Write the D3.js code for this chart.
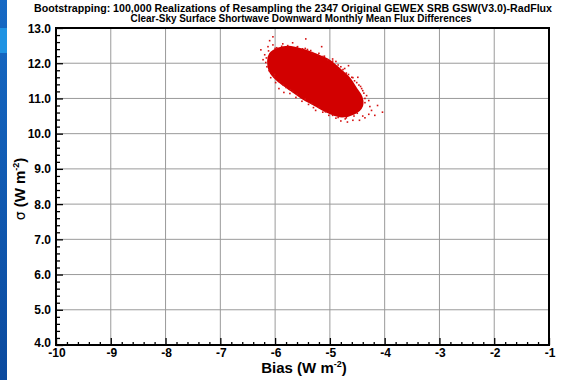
<!DOCTYPE html>
<html>
<head>
<meta charset="utf-8">
<script src="https://cdn.jsdelivr.net/npm/d3@7"></script>
<style>
  body { margin: 0; background: #fff; }
  svg { display: block; font-family: "Liberation Sans", Arial, sans-serif; }
</style>
</head>
<body>
<svg id="chart" width="561" height="380"></svg>
<script>
const titleLines = [
  "Bootstrapping: 100,000 Realizations of Resampling the 2347 Original GEWEX SRB GSW(V3.0)-RadFlux",
  "Clear-Sky Surface Shortwave Downward Monthly Mean Flux Differences"
];
const xTicks = [-10, -9, -8, -7, -6, -5, -4, -3, -2, -1];
const yTicks = [4, 5, 6, 7, 8, 9, 10, 11, 12, 13];

// dense core of the bootstrap cloud, [bias, sigma]
const cloudCore = [
  [-6.11, 12.05], [-6.08, 12.24], [-5.93, 12.39], [-5.75, 12.44], [-5.51, 12.36],
  [-5.26, 12.22], [-5.02, 12.05], [-4.84, 11.82], [-4.65, 11.54], [-4.53, 11.25],
  [-4.44, 11.03], [-4.43, 10.80], [-4.56, 10.60], [-4.82, 10.52], [-5.02, 10.63],
  [-5.26, 10.83], [-5.51, 11.05], [-5.75, 11.31], [-5.95, 11.54], [-6.08, 11.79]
];

// sparse realizations round the edge of the cloud, [bias, sigma]
const cloudFringe = [
  [-6.26, 12.38], [-6.19, 12.24], [-6.13, 12.47], [-6.10, 12.64], [-6.04, 12.52],
  [-5.97, 12.44], [-6.17, 12.02], [-6.11, 11.79], [-6.08, 11.59], [-5.99, 11.45],
  [-5.93, 11.28], [-5.84, 11.17], [-5.77, 12.50], [-5.68, 12.58], [-5.59, 12.47],
  [-5.50, 12.41], [-5.41, 12.39], [-5.32, 12.30], [-5.22, 12.24], [-5.13, 12.19],
  [-5.04, 12.10], [-4.89, 12.05], [-4.80, 11.90], [-4.73, 11.85], [-4.66, 11.68],
  [-4.58, 11.59], [-4.51, 11.45], [-4.44, 11.34], [-4.40, 11.22], [-4.33, 11.08],
  [-4.29, 10.94], [-4.27, 10.77], [-4.24, 10.66], [-4.18, 10.52], [-4.29, 10.55],
  [-4.40, 10.50], [-4.46, 10.38], [-4.58, 10.38], [-4.68, 10.33], [-4.80, 10.36],
  [-4.89, 10.44], [-5.02, 10.52], [-5.13, 10.61], [-5.26, 10.66], [-5.39, 10.83],
  [-5.51, 10.92], [-5.62, 11.03], [-5.73, 11.14], [-5.80, 11.31], [-6.04, 12.75],
  [-5.44, 12.69], [-5.15, 12.47], [-4.66, 11.93], [-4.13, 10.80], [-4.04, 10.61],
  [-6.15, 11.90], [-6.22, 12.10], [-5.86, 12.55], [-4.95, 12.12], [-4.36, 10.45],
  [-4.72, 10.42], [-5.30, 10.74], [-5.68, 11.20], [-6.01, 11.68], [-4.49, 11.60],
  [-5.60, 12.45], [-5.45, 12.42], [-5.35, 12.36], [-5.20, 12.28], [-5.10, 12.20],
  [-4.95, 12.06], [-4.85, 11.95], [-4.76, 11.82], [-4.70, 11.72], [-4.60, 11.60],
  [-4.55, 11.50], [-4.47, 11.38], [-4.42, 11.28], [-4.38, 11.15], [-4.36, 11.00],
  [-4.36, 10.88], [-6.02, 11.62], [-5.92, 11.48], [-5.85, 11.38], [-5.72, 11.25],
  [-5.60, 11.12], [-5.45, 10.98], [-5.33, 10.86], [-5.20, 10.75], [-5.08, 10.62],
  [-4.95, 10.52], [-4.85, 10.46], [-4.70, 10.45], [-4.56, 10.50], [-4.50, 10.58],
  [-6.16, 12.15], [-6.12, 12.35], [-6.00, 12.42], [-5.88, 12.48]
];

const svg = d3.select("#chart");

// slide background strip on the left
const grad = svg.append("defs").append("linearGradient")
  .attr("id", "strip").attr("x1", 0).attr("y1", 0).attr("x2", 0).attr("y2", 1);
grad.append("stop").attr("offset", "0%").attr("stop-color", "#1669c4");
grad.append("stop").attr("offset", "100%").attr("stop-color", "#0b4a9e");
svg.append("rect").attr("x", 0).attr("y", 0).attr("width", 7).attr("height", 380)
  .attr("fill", "url(#strip)");
svg.append("rect").attr("x", 0).attr("y", 28).attr("width", 7).attr("height", 25)
  .attr("fill", "#1f93e3");

const mLeft = 56, mRight = 549, mTop = 28, mBottom = 345;
const x = d3.scaleLinear([-10, -1], [mLeft, mRight]);
const y = d3.scaleLinear([4, 13], [mBottom, mTop]);

// grid
svg.append("g").selectAll("line").data(xTicks.slice(1, -1)).join("line")
  .attr("x1", d => x(d)).attr("x2", d => x(d)).attr("y1", mTop).attr("y2", mBottom)
  .attr("stroke", "#9a9a9a").attr("stroke-width", 1);
svg.append("g").selectAll("line").data(yTicks.slice(1, -1)).join("line")
  .attr("y1", d => y(d)).attr("y2", d => y(d)).attr("x1", mLeft).attr("x2", mRight)
  .attr("stroke", "#9a9a9a").attr("stroke-width", 1);

// cloud
const plot = svg.append("g");
plot.append("path").datum(cloudCore)
  .attr("d", d3.line().x(d => x(d[0])).y(d => y(d[1])).curve(d3.curveCatmullRomClosed))
  .attr("fill", "#d20000").attr("stroke", "#d20000").attr("stroke-width", 4)
  .attr("stroke-linejoin", "round");
plot.selectAll("rect").data(cloudFringe).join("rect")
  .attr("x", d => x(d[0]) - 0.8).attr("y", d => y(d[1]) - 0.8)
  .attr("width", 1.6).attr("height", 1.6).attr("fill", "#d51010");

// axes with inward ticks
const xMinor = d3.range(-10, -1.0001, 0.2).filter(v => Math.abs(v - Math.round(v)) > 0.01);
const yMinor = d3.range(4, 13.0001, 0.2).filter(v => Math.abs(v - Math.round(v)) > 0.01);

const xAxis = svg.append("g").attr("transform", `translate(0,${mBottom})`);
xAxis.call(d3.axisTop(x).tickValues(xMinor).tickSize(3).tickFormat(""));
xAxis.call(g => g.select(".domain").remove());
const xMajor = svg.append("g").attr("transform", `translate(0,${mBottom})`)
  .call(d3.axisTop(x).tickValues(xTicks).tickSize(7).tickFormat(""));
xMajor.select(".domain").remove();

const yAxis = svg.append("g").attr("transform", `translate(${mLeft},0)`);
yAxis.call(d3.axisRight(y).tickValues(yMinor).tickSize(4).tickFormat(""));
yAxis.call(g => g.select(".domain").remove());
const yMajor = svg.append("g").attr("transform", `translate(${mLeft},0)`)
  .call(d3.axisRight(y).tickValues(yTicks).tickSize(7).tickFormat(""));
yMajor.select(".domain").remove();
svg.selectAll(".tick line").attr("stroke", "#000").attr("stroke-width", 1.3);

// frame
svg.append("rect").attr("x", mLeft).attr("y", mTop)
  .attr("width", mRight - mLeft).attr("height", mBottom - mTop)
  .attr("fill", "none").attr("stroke", "#000").attr("stroke-width", 2);

// tick labels
svg.append("g").selectAll("text").data(xTicks).join("text")
  .attr("x", d => x(d) + 1).attr("y", 357)
  .attr("text-anchor", "middle").attr("font-size", 12).attr("font-weight", "bold")
  .text(d => d);
svg.append("g").selectAll("text").data(yTicks).join("text")
  .attr("x", 51).attr("y", d => y(d) + (d === 4 ? 2 : 4.5))
  .attr("text-anchor", "end").attr("font-size", 12).attr("font-weight", "bold")
  .text(d => d.toFixed(1));

// axis titles
const xt = svg.append("text").attr("x", 304).attr("y", 373)
  .attr("text-anchor", "middle").attr("font-size", 15).attr("font-weight", "bold");
xt.append("tspan").text("Bias (W m");
xt.append("tspan").attr("font-size", 9).attr("dy", -6).text("-2");
xt.append("tspan").attr("dy", 6).text(")");

const yt = svg.append("text").attr("transform", "translate(25,189) rotate(-90)")
  .attr("text-anchor", "middle").attr("font-size", 15).attr("font-weight", "bold");
yt.append("tspan").attr("font-weight", "normal").attr("font-family", "DejaVu Sans").attr("font-size", 14).text("σ");
yt.append("tspan").text(" (W m");
yt.append("tspan").attr("font-size", 9).attr("dy", -6).text("-2");
yt.append("tspan").attr("dy", 6).text(")");

// title
svg.append("g").selectAll("text").data(titleLines).join("text")
  .attr("x", (d, i) => i === 0 ? 293 : 301).attr("y", (d, i) => 12 + i * 10)
  .attr("text-anchor", "middle").attr("font-size", 10).attr("font-weight", "bold")
  .attr("textLength", (d, i) => i === 0 ? 518 : 341).attr("lengthAdjust", "spacingAndGlyphs")
  .text(d => d);
</script>
</body>
</html>
